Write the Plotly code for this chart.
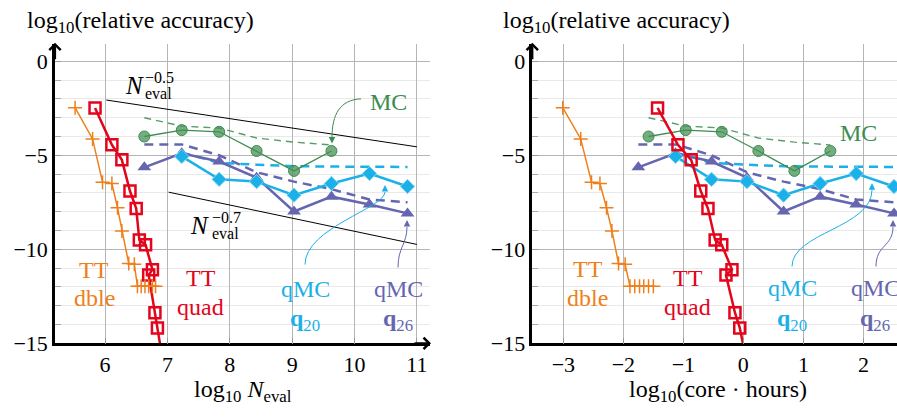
import plotly.graph_objects as go

# ---------------- data ----------------
# TT double precision
acc_tt_dble = [-2.47, -4.13, -6.43, -6.50, -7.79, -9.02, -10.76, -10.80, -11.96, -11.96, -11.96, -11.96, -11.96, -11.96]
logN_tt_dble = [5.52, 5.80, 5.96, 6.11, 6.20, 6.27, 6.38, 6.47, 6.52, 6.58, 6.64, 6.70, 6.76, 6.81]
hours_tt_dble = [-3.01, -2.71, -2.53, -2.39, -2.28, -2.19, -2.08, -1.97, -1.89, -1.81, -1.73, -1.66, -1.58, -1.50]

# TT quad precision
acc_tt_quad = [-2.48, -4.44, -5.24, -6.90, -7.83, -9.50, -9.76, -11.08, -11.37, -13.37, -14.18, -15.6]
logN_tt_quad = [5.84, 6.11, 6.27, 6.40, 6.50, 6.55, 6.65, 6.76, 6.70, 6.80, 6.84, 6.91]
hours_tt_quad = [-1.43, -1.09, -0.87, -0.71, -0.59, -0.47, -0.36, -0.19, -0.29, -0.14, -0.06, 0.03]

# Monte Carlo
acc_mc = [-4.00, -3.66, -3.75, -4.77, -5.83, -4.77]
acc_mc_est = [-3.00, -3.45, -3.55, -4.08, -4.30, -4.45]
logN_mc = [6.63, 7.23, 7.83, 8.43, 9.03, 9.63]
hours_mc = [-1.58, -0.96, -0.36, 0.25, 0.85, 1.45]

# quasi Monte Carlo
logN_qmc = [6.63, 7.23, 7.83, 8.43, 9.03, 9.63, 10.24, 10.85]
hours_qmc = [-1.75, -1.13, -0.53, 0.06, 0.67, 1.28, 1.88, 2.51]
acc_q26 = [-5.64, -4.89, -5.33, -6.19, -7.99, -7.20, -7.62, -8.09]
acc_q26_est = [-4.42, -4.42, -5.00, -5.90, -6.40, -6.80, -7.35, -7.50]
acc_q20 = [-5.06, -6.28, -6.40, -7.12, -6.50, -5.97, -6.66]
acc_q20_est = [-4.85, -5.40, -5.50, -5.58, -5.60, -5.60, -5.62]

# reference slopes (left panel)
logN_slope05 = [6.02, 11.0]
acc_slope05 = [-2.06, -4.55]
logN_slope07 = [7.02, 11.0]
acc_slope07 = [-6.96, -9.74]

x_ticks_left = [6, 7, 8, 9, 10, 11]
x_ticks_right = [-3, -2, -1, 0, 1, 2]
y_ticks = [0, -5, -10, -15]

# ---------------- style ----------------
W, H = 897, 420
FONT = "Liberation Serif, Times New Roman, serif"
ORANGE = "#EF7F1A"
RED = "#E3051B"
GREEN = "#3C8C50"
GREEN_FILL = "rgba(70,145,85,0.75)"
CYAN = "#1BB0E8"
BLUE = "#6666B0"
FS = 24


def px(x):
    return x / W


def py(y):
    return 1 - y / H


fig = go.Figure()


def add_panel(xs_dble, xs_quad, xs_mc, xs_qmc, xa, ya, slopes):
    kw = dict(xaxis=xa, yaxis=ya, showlegend=False, hoverinfo="skip")
    if slopes:
        fig.add_trace(go.Scatter(x=logN_slope05, y=acc_slope05, mode="lines",
                                 line=dict(color="black", width=1), **kw))
        fig.add_trace(go.Scatter(x=logN_slope07, y=acc_slope07, mode="lines",
                                 line=dict(color="black", width=1), **kw))
    fig.add_trace(go.Scatter(x=xs_mc, y=acc_mc_est, mode="lines",
                             line=dict(color=GREEN, width=1.4, dash="7px,5px"), opacity=0.85, **kw))
    fig.add_trace(go.Scatter(x=xs_qmc, y=acc_q26_est, mode="lines",
                             line=dict(color=BLUE, width=2.5, dash="9px,6px"), **kw))
    fig.add_trace(go.Scatter(x=xs_qmc[1:], y=acc_q20_est, mode="lines",
                             line=dict(color=CYAN, width=2.5, dash="9px,6px"), **kw))
    fig.add_trace(go.Scatter(x=xs_mc, y=acc_mc, mode="lines+markers",
                             line=dict(color=GREEN, width=1.3),
                             marker=dict(symbol="circle", size=11, color=GREEN_FILL,
                                         line=dict(color=GREEN, width=1)), **kw))
    fig.add_trace(go.Scatter(x=xs_qmc, y=acc_q26, mode="lines+markers",
                             line=dict(color=BLUE, width=2.5),
                             marker=dict(symbol="triangle-up", size=12, color=BLUE), **kw))
    fig.add_trace(go.Scatter(x=xs_qmc[1:], y=acc_q20, mode="lines+markers",
                             line=dict(color=CYAN, width=2.5),
                             marker=dict(symbol="diamond", size=11, color=CYAN,
                                         line=dict(color="#7fd4f4", width=1)), **kw))
    fig.add_trace(go.Scatter(x=xs_quad, y=acc_tt_quad, mode="lines+markers",
                             line=dict(color=RED, width=2.5),
                             marker=dict(symbol="square-open", size=11, color=RED,
                                         line=dict(color=RED, width=2.5)), **kw))
    fig.add_trace(go.Scatter(x=xs_dble, y=acc_tt_dble, mode="lines+markers",
                             line=dict(color=ORANGE, width=1.5),
                             marker=dict(symbol="cross-thin", size=10,
                                         line=dict(color=ORANGE, width=1.5)), **kw))


add_panel(logN_tt_dble, logN_tt_quad, logN_mc, logN_qmc, "x", "y", True)
add_panel(hours_tt_dble, hours_tt_quad, hours_mc, hours_qmc, "x2", "y2", False)

ydom = [py(354.3), py(45)]
axis_common = dict(showline=True, linecolor="black", linewidth=2.5, mirror=False,
                   showgrid=True, gridcolor="#b5b5b5", gridwidth=1, zeroline=False,
                   tickfont=dict(family=FONT, size=22, color="black"),
                   ticks="inside", ticklen=6, tickcolor="#999999", tickwidth=1)

yaxis_common = dict(axis_common, range=[-15, 0.94], tickvals=y_ticks, domain=ydom,
                    minor=dict(dtick=1, showgrid=True, gridcolor="#e9e9e9", gridwidth=1,
                               ticks="inside", ticklen=6, tickcolor="#aaaaaa"))

fig.update_layout(
    width=W, height=H,
    margin=dict(l=0, r=0, t=0, b=0),
    paper_bgcolor="white", plot_bgcolor="white",
    font=dict(family=FONT, size=FS, color="black"),
    xaxis=dict(axis_common, domain=[px(55), px(430)], range=[5.198, 11.21],
               tickvals=x_ticks_left, anchor="y"),
    yaxis=dict(yaxis_common, anchor="x"),
    xaxis2=dict(axis_common, domain=[px(532.3), 1.0], range=[-3.517, 2.56],
                tickvals=x_ticks_right, anchor="y2"),
    yaxis2=dict(yaxis_common, anchor="x2"),
)

ann = []


def text(x, y, t, color="black", size=FS, xanchor="center"):
    ann.append(dict(x=px(x), y=py(y), xref="paper", yref="paper", text=t, showarrow=False,
                    font=dict(family=FONT, size=size, color=color), xanchor=xanchor,
                    yanchor="middle"))


def head(x, y, dx, dy, color, width=1.0, style=2, size=1.3):
    ann.append(dict(x=px(x), y=py(y), xref="paper", yref="paper", ax=dx, ay=dy,
                    axref="pixel", ayref="pixel", text="", showarrow=True,
                    arrowhead=style, arrowsize=size, arrowwidth=width, arrowcolor=color,
                    standoff=0, startstandoff=0))


# axis titles
text(25, 23, "log<sub>10</sub>(relative accuracy)", xanchor="left")
text(501, 23, "log<sub>10</sub>(relative accuracy)", xanchor="left")
text(243, 403, "log<sub>10</sub> <i>N</i><sub>eval</sub>")
text(718, 403, "log<sub>10</sub>(core · hours)")

# axis arrows
head(55, 44, 0, 18, "black", width=2.2, style=4, size=1.0)
head(532.3, 44, 0, 18, "black", width=2.2, style=4, size=1.0)
head(431, 354.3, -18, 0, "black", width=2.2, style=4, size=1.0)

# slope labels (left)
text(134, 88, "<i>N</i>", size=25)
text(143, 80, "−0.5", size=16, xanchor="left")
text(143, 97, "eval", size=16, xanchor="left")
text(199, 233, "<i>N</i>", size=25)
text(210, 224, "−0.7", size=16, xanchor="left")
text(210, 241, "eval", size=16, xanchor="left")

# method labels, left panel
text(94, 279, "TT", ORANGE)
text(94, 308, "dble", ORANGE)
text(201, 287, "TT", RED)
text(200, 317, "quad", RED)
text(388, 105, "MC", GREEN)
text(305, 298, "qMC", CYAN)
text(305, 330, "<b>q</b><sub>20</sub>", CYAN)
text(398, 298, "qMC", BLUE)
text(398, 330, "<b>q</b><sub>26</sub>", BLUE)

# method labels, right panel
text(588, 278, "TT", ORANGE)
text(587, 308, "dble", ORANGE)
text(688, 287, "TT", RED)
text(687, 317, "quad", RED)
text(858, 137, "MC", GREEN)
text(792, 297, "qMC", CYAN)
text(792, 330, "<b>q</b><sub>20</sub>", CYAN)
text(875, 297, "qMC", BLUE)
text(875, 330, "<b>q</b><sub>26</sub>", BLUE)

# curved pointers
shapes = []


def curve(p0, p1, p2, p3, color):
    path = "M {},{} C {},{} {},{} {},{}".format(
        px(p0[0]), py(p0[1]), px(p1[0]), py(p1[1]),
        px(p2[0]), py(p2[1]), px(p3[0]), py(p3[1]))
    shapes.append(dict(type="path", path=path, xref="paper", yref="paper",
                       line=dict(color=color, width=1)))


curve((361, 102), (340, 103), (332, 118), (332, 142), GREEN)
head(332, 148, 0, -7, GREEN)
curve((305, 273), (305, 235), (385, 215), (385, 198), CYAN)
head(385, 191, 0, 7, CYAN)
curve((398, 276), (398, 255), (407, 252), (407, 234), BLUE)
head(407, 227, 0, 7, BLUE)
curve((792, 275), (792, 240), (872, 235), (872, 196), CYAN)
head(872, 189, 0, 7, CYAN)
curve((876, 275), (876, 252), (893, 255), (893, 234), BLUE)
head(893, 227, 0, 7, BLUE)

fig.update_layout(annotations=ann, shapes=shapes)

# remove the default page margin so the figure sits at the window's corner
fig.write_html("out.html", config={"displayModeBar": False},
               post_script="document.body.style.margin='0';document.body.style.overflow='hidden';")
